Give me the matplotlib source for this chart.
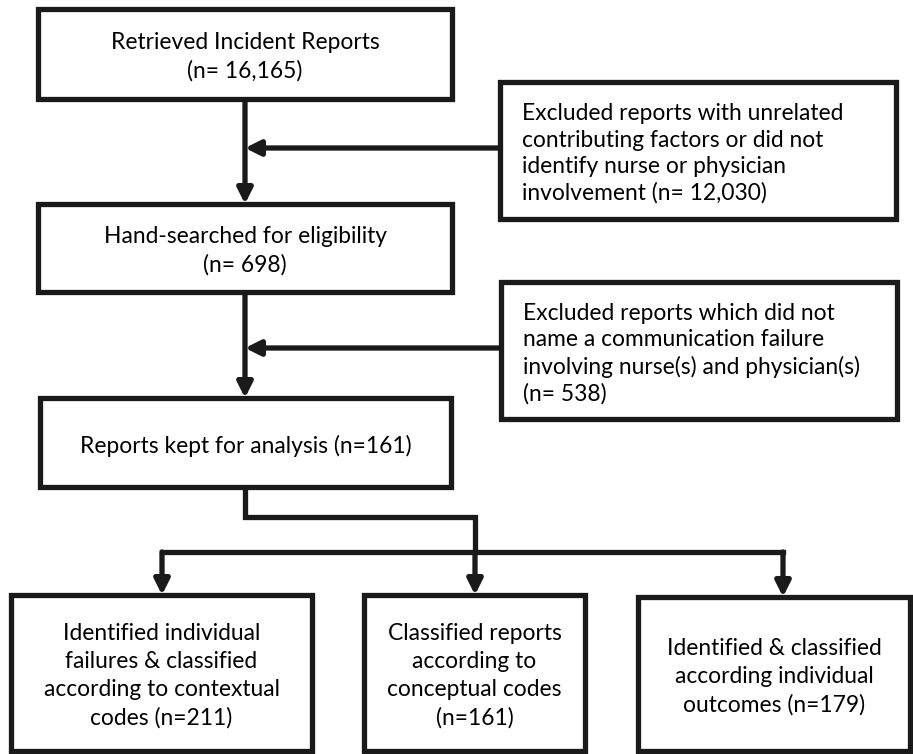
import matplotlib.pyplot as plt
import matplotlib.patches as patches

# flowchart content
main_steps = ["Retrieved Incident Reports\n(n= {})",
              "Hand-searched for eligibility\n(n= {})",
              "Reports kept for analysis (n={})"]
main_counts = ["16,165", "698", "161"]

excluded_text = ["Excluded reports with unrelated\ncontributing factors or did not\nidentify nurse or physician\ninvolvement (n= {})",
                 "Excluded reports which did not\nname a communication failure\ninvolving nurse(s) and physician(s)\n(n= {})"]
excluded_counts = ["12,030", "538"]

outcome_text = ["Identified individual\nfailures & classified\naccording to contextual\ncodes (n={})",
                "Classified reports\naccording to\nconceptual codes\n(n={})",
                "Identified & classified\naccording individual\noutcomes (n={})"]
outcome_counts = ["211", "161", "179"]

plt.rcParams['font.family'] = ['Lato', 'DejaVu Sans']
fig = plt.figure(figsize=(9.13, 7.54), dpi=100)
ax = fig.add_axes([0, 0, 1, 1])
ax.set_xlim(0, 913)
ax.set_ylim(754, 0)
ax.axis('off')

LW = 3.8
FS = 16.4
col = '#1a1a1a'

def box(x0, y0, x1, y1):
    ax.add_patch(patches.Rectangle((x0, y0), x1 - x0, y1 - y0, linewidth=LW,
                                   edgecolor=col, facecolor='white', zorder=3))

def arrow(x0, y0, x1, y1):
    ax.annotate('', xy=(x1, y1), xytext=(x0, y0),
                arrowprops=dict(arrowstyle='-|>,head_length=0.9,head_width=0.45',
                                lw=LW, color=col, shrinkA=0, shrinkB=0),
                zorder=2)

def line(xs, ys):
    ax.plot(xs, ys, color=col, lw=LW, solid_capstyle='projecting',
            solid_joinstyle='miter', zorder=2)

# main column
main_boxes = [(38, 9, 452, 99), (38, 204, 452, 292), (40, 398, 451, 487)]
for (x0, y0, x1, y1), t, n in zip(main_boxes, main_steps, main_counts):
    box(x0, y0, x1, y1)
    ax.text((x0 + x1) / 2, (y0 + y1) / 2 + 3, t.format(n), ha='center', va='center',
            fontsize=FS, linespacing=1.42, zorder=4)

cx = 245
arrow(cx, 99, cx, 204)
arrow(cx, 292, cx, 398)

# excluded boxes
ex_boxes = [(500, 82, 896, 219), (501, 282, 897, 419)]
ex_arrow_y = [148, 348]
for (x0, y0, x1, y1), t, n, ay in zip(ex_boxes, excluded_text, excluded_counts, ex_arrow_y):
    box(x0, y0, x1, y1)
    ax.text(x0 + 22, (y0 + y1) / 2 + 3, t.format(n), ha='left', va='center',
            fontsize=FS, linespacing=1.31, zorder=4)
    arrow(x0, ay, cx, ay)

# branch to outcomes
line([cx, cx, 475, 475], [487, 517, 517, 552])
out_boxes = [(11, 595, 312, 751), (364, 595, 585, 751), (638, 597, 910, 751)]
out_x = [162, 475, 783]
line([out_x[0], out_x[-1]], [552, 552])
for (x0, y0, x1, y1), t, n, ox in zip(out_boxes, outcome_text, outcome_counts, out_x):
    arrow(ox, 552, ox, y0)
    box(x0, y0, x1, y1)
    ax.text((x0 + x1) / 2, (y0 + y1) / 2 + 3, t.format(n), ha='center', va='center',
            fontsize=FS, linespacing=1.42, zorder=4)

fig.savefig('out.png', dpi=100)
